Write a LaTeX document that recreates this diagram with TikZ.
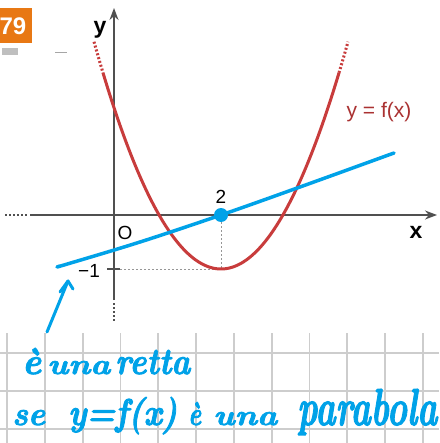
\documentclass[tikz,border=0pt]{standalone}
\usepackage{fontspec}
\usepackage{graphicx}
\setsansfont{Liberation Sans}
\newfontfamily\handfont{Latin Modern Roman}[BoldItalicFeatures={FakeBold=2.5}]
\usetikzlibrary{arrows.meta}
\definecolor{pred}{RGB}{200,60,60}
\definecolor{plabel}{RGB}{170,50,50}
\definecolor{hblue}{RGB}{0,162,232}
\definecolor{axgray}{RGB}{80,80,80}
\definecolor{dotgray}{RGB}{150,150,150}
\definecolor{gridgray}{RGB}{205,205,205}
\definecolor{borange}{RGB}{232,120,20}
\newcommand\hw[3]{\resizebox{#1pt}{#2pt}{\handfont\bfseries\itshape #3}}
\tikzset{
  gridline/.style={gridgray, line width=1.8pt},
  axisline/.style={axgray, line width=1.5pt},
  axisdots/.style={axgray, line width=1.5pt, dash pattern=on 2pt off 2pt},
  guide/.style={dotgray, line width=1pt, dash pattern=on 2pt off 2pt},
  curve/.style={pred, line width=3pt},
  curvedots/.style={pred, line width=3pt, dash pattern=on 2pt off 2pt},
  ink/.style={hblue, line width=3.5pt, line cap=round, line join=round},
  lab/.style={font=\sffamily\fontsize{19}{19}\selectfont, inner sep=0pt},
  hand/.style={hblue, anchor=base west, inner sep=0pt}
}
\begin{document}
\begin{tikzpicture}[x=1pt,y=-1pt]
\useasboundingbox (0,0) rectangle (439,443);
\clip (0,0) rectangle (439,443);
\fill[white] (0,0) rectangle (439,443);
% notebook grid
\foreach \i in {0,...,11} \draw[gridline] ({7+37.8*\i},333) -- ({7+37.8*\i},443);
\foreach \yy in {353,391,429} \draw[gridline] (0,\yy) -- (439,\yy);
% exercise number
\fill[borange] (-20,8) rectangle (32,43);
\node[text=white, font=\sffamily\bfseries\fontsize{24}{24}\selectfont, inner sep=0pt] (num) at (13,26) {79};
\fill[gray!50] (2,48) rectangle (18,55);
\draw[gray!70, line width=1pt] (55,52.5) -- (67,52.5);
% axes
\coordinate (O) at (114,215);
\coordinate (xl) at (30,215);
\coordinate (xr) at (437,215);
\coordinate (yb) at (114,300);
\coordinate (yt) at (114,8);
\draw[axisline, -{Stealth[length=12pt,width=9pt]}] (xl) -- (xr);
\draw[axisline, -{Stealth[length=12pt,width=9pt]}] (yb) -- (yt);
\draw[axisdots] (5,215) -- (27,215);
\draw[axisdots] (114,303) -- (114,322);
% guides
\coordinate (V) at (221,269);
\coordinate (m1) at (114,269);
\draw[axgray, line width=1.5pt] (107,269) -- (120,269);
\draw[guide] (120,269) -- (V);
\draw[guide] (221,222) -- (V);
% parabola
\draw[curve] plot[domain=103:339, samples=80, smooth] (\x, {269-(0.1187*(\x-221))^2});
\draw[curvedots] plot[domain=94:103, samples=6] (\x, {269-(0.1187*(\x-221))^2});
\draw[curvedots] plot[domain=339:348, samples=6] (\x, {269-(0.1187*(\x-221))^2});
% labels
\node[lab, font=\sffamily\bfseries\fontsize{23}{23}\selectfont] (ylab) at (100,30) {y};
\node[lab, font=\sffamily\bfseries\fontsize{23}{23}\selectfont] (xlab) at (416,232) {x};
\node[lab] (olab) at (125,233) {O};
\node[lab] (twolab) at (221,197) {2};
\node[lab] (m1lab) at (89,271) {−1};
\node[lab, text=plabel, font=\sffamily\fontsize{21}{21}\selectfont] (flab) at (379,112) {y = f(x)};
% blue line
\draw[ink] plot[smooth, tension=0.6] coordinates {(60,266) (64,265) (140,242) (221,215) (300,187) (394,153)};
\node[circle, fill=hblue, inner sep=0pt, minimum size=14pt] (P) at (221,215) {};
% arrow
\coordinate (as) at (47,332);
\coordinate (ae) at (68,281);
\draw[ink, line width=3pt] (as) -- (ae);
\draw[ink, line width=3pt] (60,292) -- (ae) -- (73,289);
% handwriting
\node[hand] (h1) at (22,374) {\hw{19}{26}{è}};
\node[hand] (h2) at (47,374) {\hw{63}{13}{una}};
\node[hand] (h3) at (115,374) {\hw{75}{24}{retta}};
\node[hand] (h4) at (12,425) {\hw{33}{15}{se}};
\node[hand] (h5) at (68,425) {\hw{109}{28}{y=f(x)}};
\node[hand] (h6) at (188,425) {\hw{13}{23}{è}};
\node[hand] (h7) at (213,425) {\hw{64}{13}{una}};
\node[hand] (h8) at (297,425) {\hw{140}{36}{parabola}};
\end{tikzpicture}
\end{document}
